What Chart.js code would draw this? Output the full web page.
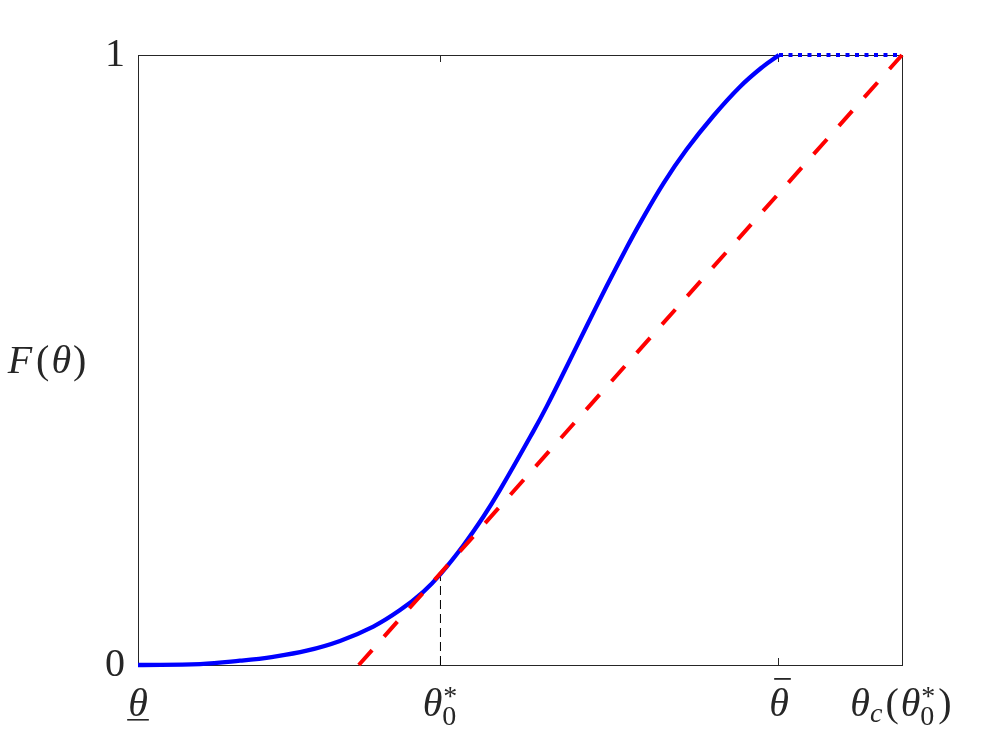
<!DOCTYPE html>
<html>
<head>
<meta charset="utf-8">
<script src="https://cdn.jsdelivr.net/npm/chart.js@4.4.1/dist/chart.umd.min.js"></script>
<style>
html,body{margin:0;padding:0;background:#fff;}
#wrap{width:997px;height:747px;position:relative;}
</style>
</head>
<body>
<div id="wrap"><canvas id="c"></canvas></div>
<script>
// ---- data ----
const thetaValues = [0, 0.0812, 0.1335, 0.177, 0.2208, 0.2644, 0.308, 0.343, 0.3734, 0.3959, 0.4258, 0.452, 0.4738, 0.5174, 0.535, 0.561, 0.587, 0.613, 0.637, 0.657, 0.688, 0.718, 0.753, 0.788, 0.818, 0.839];
const cdfValues   = [0, 0.0015, 0.007, 0.0135, 0.0235, 0.0395, 0.063, 0.090, 0.120, 0.149, 0.196, 0.243, 0.287, 0.383, 0.424, 0.489, 0.555, 0.620, 0.678, 0.724, 0.790, 0.845, 0.900, 0.948, 0.981, 1.0];
const flatX = [0.839, 1];
const flatY = [1, 1];
const tangentX = [0.289, 1];
const tangentY = [0, 1];
const markerX = [0.3959, 0.3959];
const markerY = [0, 0.149];
const xTickValues = [0, 0.3959, 0.839, 1];
const xTickLabels = ['θ\u0332', 'θ_0^*', 'θ\u0304', 'θ_c(θ_0^*)'];
const yTickValues = [0, 1];
const yTickLabels = ['0', '1'];
const yAxisTitle = 'F(θ)';

const pts = (xs, ys) => xs.map((x, i) => ({x: x, y: ys[i]}));

const TEXT = '#262626';
const FAMILY = '"Liberation Serif", "DejaVu Serif", serif';
const MAIN = 40, SMALL = 28;

function parseMath(str) {
  const chars = Array.from(str);
  const toks = [];
  let i = 0;
  while (i < chars.length) {
    const c = chars[i];
    const t = {base: c, deco: null, sub: null, sup: null};
    i++;
    if (chars[i] === '\u0332') { t.deco = 'under'; i++; }
    else if (chars[i] === '\u0304') { t.deco = 'bar'; i++; }
    while (chars[i] === '_' || chars[i] === '^') {
      if (chars[i] === '_') t.sub = chars[i + 1]; else t.sup = chars[i + 1];
      i += 2;
    }
    toks.push(t);
  }
  return toks;
}
function isLetter(ch) { return /[A-Za-zα-ωΑ-Ω]/.test(ch); }
function fontFor(ch, size) {
  return (isLetter(ch) ? 'italic ' : '') + size + 'px ' + FAMILY;
}
function renderMath(ctx, str, x0, base, draw) {
  const toks = parseMath(str);
  let x = x0;
  ctx.textBaseline = 'alphabetic';
  ctx.textAlign = 'left';
  toks.forEach((t) => {
    const paren = (t.base === '(' || t.base === ')');
    if (paren) x += 2;
    ctx.font = fontFor(t.base, MAIN);
    const w = ctx.measureText(t.base).width;
    if (draw) {
      ctx.fillText(t.base, x, base);
      if (t.deco === 'under') {
        ctx.fillRect(x - 1, base + 3, w + 2, 1.6);
      } else if (t.deco === 'bar') {
        ctx.fillRect(x + 5, base - 38, w - 3, 1.8);
      }
    }
    x += w;
    if (paren) x += 2;
    if (t.base === 'F') x += 2;
    let adv = 0;
    if (t.sub) {
      ctx.font = fontFor(t.sub, SMALL);
      const sw = ctx.measureText(t.sub).width;
      if (draw) ctx.fillText(t.sub, x, base + (t.sup ? 9 : 6));
      adv = Math.max(adv, sw);
    }
    if (t.sup) {
      ctx.font = fontFor(t.sup, SMALL);
      const pw = ctx.measureText(t.sup).width;
      if (draw) ctx.fillText(t.sup, x + 1, base - 11);
      adv = Math.max(adv, pw + 1);
    }
    x += adv;
    if (adv > 0) x += 1;
  });
  return x - x0;
}

const framePlugin = {
  id: 'frame',
  beforeDatasetsDraw(chart) {
    const {ctx, chartArea: a, scales} = chart;
    ctx.save();
    ctx.strokeStyle = TEXT;
    ctx.lineWidth = 1;
    ctx.strokeRect(Math.round(a.left) + 0.5, Math.round(a.top) + 0.5, Math.round(a.right - a.left), Math.round(a.bottom - a.top));
    ctx.beginPath();
    for (const v of xTickValues) {
      const px = Math.round(scales.x.getPixelForValue(v) - 0.5) + 0.5;
      ctx.moveTo(px, a.bottom); ctx.lineTo(px, a.bottom - 7);
      ctx.moveTo(px, a.top); ctx.lineTo(px, a.top + 7);
    }
    ctx.stroke();
    ctx.restore();
  },
  afterDraw(chart) {
    const {ctx, scales} = chart;
    ctx.save();
    ctx.fillStyle = TEXT;
    xTickLabels.forEach((lab, i) => {
      const px = scales.x.getPixelForValue(xTickValues[i]);
      const w = renderMath(ctx, lab, 0, 0, false);
      renderMath(ctx, lab, px - w / 2, 716, true);
    });
    const w = renderMath(ctx, yAxisTitle, 0, 0, false);
    renderMath(ctx, yAxisTitle, 48 - w / 2, 373, true);
    ctx.restore();
  }
};

new Chart(document.getElementById('c'), {
  type: 'line',
  data: {
    datasets: [
      {
        data: pts(tangentX, tangentY),
        borderColor: '#ff0000', borderWidth: 4, borderDash: [20, 18],
        pointRadius: 0, tension: 0, clip: 6
      },
      {
        data: pts(thetaValues, cdfValues),
        borderColor: '#0000ff', borderWidth: 4.3,
        tension: 0.4, pointRadius: 0, clip: 6
      },
      {
        data: pts(flatX, flatY),
        borderColor: '#0000ff', borderWidth: 4, borderDash: [4, 5.5],
        pointRadius: 0, tension: 0, clip: 6
      },
      {
        data: pts(markerX, markerY),
        borderColor: '#000000', borderWidth: 1, borderDash: [9, 5],
        pointRadius: 0, tension: 0, clip: 6
      }
    ]
  },
  options: {
    responsive: true,
    maintainAspectRatio: false,
    animation: false,
    devicePixelRatio: 1,
    layout: {padding: {top: 55, right: 95, left: 0, bottom: 0}},
    plugins: {legend: {display: false}, tooltip: {enabled: false}},
    scales: {
      x: {
        type: 'linear', min: 0, max: 1,
        grid: {display: false, drawTicks: false},
        border: {display: false},
        ticks: {display: false},
        afterFit(s) { s.height = 82; }
      },
      y: {
        type: 'linear', min: 0, max: 1,
        grid: {display: false, drawTicks: false},
        border: {display: false},
        afterBuildTicks(s) { s.ticks = yTickValues.map(v => ({value: v})); },
        ticks: {
          padding: 13,
          color: TEXT,
          font: {family: FAMILY, size: 40},
          autoSkip: false,
          callback(v) { const k = yTickValues.indexOf(v); return k >= 0 ? yTickLabels[k] : ''; }
        },
        afterFit(s) { s.width = 138; }
      }
    }
  },
  plugins: [framePlugin]
});
</script>
</body>
</html>
